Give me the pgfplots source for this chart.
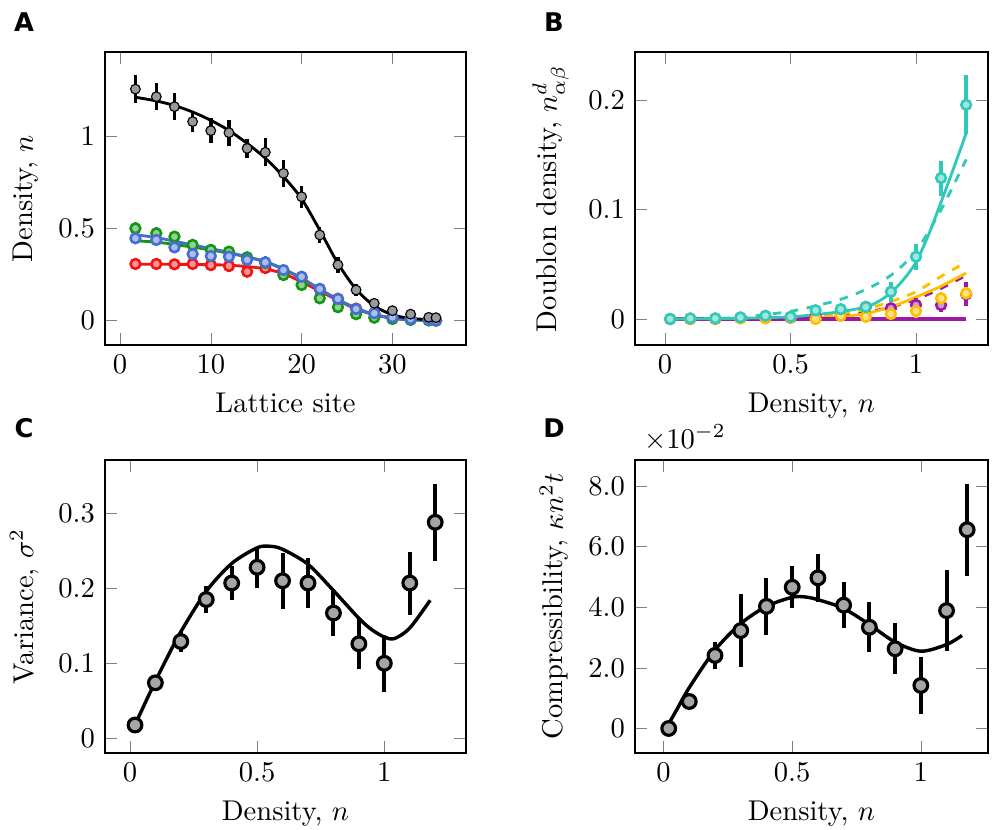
\documentclass[border=0pt]{standalone}
\usepackage{pgfplots}
\pgfplotsset{compat=1.18}
\usepackage{fontspec}
\newfontfamily\panelfont{DejaVu Sans}

\definecolor{cblack}{RGB}{0,0,0}
\definecolor{cgreen}{RGB}{20,150,20}
\definecolor{cblue}{RGB}{70,110,210}
\definecolor{cred}{RGB}{240,20,20}
\definecolor{cteal}{RGB}{48,201,184}
\definecolor{cpurple}{RGB}{155,25,165}
\definecolor{cyellow}{RGB}{255,190,0}

\pgfplotsset{
  panel/.style={scale only axis, anchor=north west, height=102.55pt},
  ebars/.style={error bars/y dir=both, error bars/y explicit, error bars/error mark=none,
    error bars/error bar style={line width=#1}},
  pts/.style={only marks, color=#1, mark=*, mark size=1.7pt,
    mark options={solid, line width=0.9pt, draw=#1, fill=#1!45!white},
    ebars=1.2pt},
  bigpts/.style={only marks, color=black, mark=*, mark size=2.4pt,
    mark options={solid, line width=1.1pt, draw=black, fill=black!35!white},
    ebars=1.4pt},
  fit/.style={color=#1, line width=1pt, smooth, mark=none},
}

\begin{document}
\begin{tikzpicture}
\useasboundingbox (0,0) rectangle (348.95pt,-290.15pt);

\node[font=\panelfont\bfseries\fontsize{9}{10}\selectfont] at (8.4pt,-7.7pt) {A};
\node[font=\panelfont\bfseries\fontsize{9}{10}\selectfont] at (193.9pt,-7.7pt) {B};
\node[font=\panelfont\bfseries\fontsize{9}{10}\selectfont] at (8.4pt,-150pt) {C};
\node[font=\panelfont\bfseries\fontsize{9}{10}\selectfont] at (193.9pt,-150pt) {D};

% ---------------- A
\begin{axis}[panel, at={(36.75pt,-18.2pt)}, width=126.35pt,
  xmin=-1.65, xmax=38.1, ymin=-0.132, ymax=1.455,
  xtick={0,10,20,30}, ytick={0,0.5,1},
  xlabel={Lattice site}, ylabel={Density, $n$}]
\addplot[pts=cred] table[x index=0, y index=1, y error index=2] {
1.7 0.307 0.03
4 0.307 0.03
6 0.305 0.03
8 0.307 0.03
10 0.301 0.03
12 0.296 0.03
14 0.265 0.03
16 0.285 0.03
18 0.262 0.03
20 0.230 0.03
22 0.170 0.025
24 0.118 0.02
26 0.065 0.015
28 0.040 0.01
30 0.015 0.008
32 0.008 0.005
34 0.003 0.005
34.8 0.001 0.004
};
\addplot[fit=cred] coordinates {
(1.7,0.305) (6,0.305) (10,0.303) (12,0.300) (14,0.293) (16,0.28) (18,0.255)
(20,0.21) (22,0.16) (24,0.11) (26,0.063) (28,0.032) (30,0.013) (32,0.005) (34.8,0.001)
};
\addplot[pts=cgreen] table[x index=0, y index=1, y error index=2] {
1.7 0.500 0.035
4 0.473 0.035
6 0.455 0.03
8 0.410 0.03
10 0.383 0.03
12 0.374 0.03
14 0.343 0.03
16 0.311 0.03
18 0.247 0.03
20 0.193 0.025
22 0.121 0.02
24 0.073 0.015
26 0.035 0.01
28 0.016 0.008
30 0.009 0.005
32 0.004 0.005
34 0.001 0.004
34.8 0.000 0.004
};
\addplot[fit=cgreen] coordinates {
(1.7,0.433) (4,0.425) (6,0.413) (8,0.398) (10,0.383) (12,0.365) (14,0.345)
(16,0.32) (18,0.28) (20,0.23) (22,0.17) (24,0.115) (26,0.067) (28,0.034)
(30,0.014) (32,0.005) (34.8,0.001)
};
\addplot[pts=cblue] table[x index=0, y index=1, y error index=2] {
1.7 0.446 0.03
4 0.437 0.03
6 0.397 0.03
8 0.361 0.03
10 0.350 0.03
12 0.347 0.03
14 0.329 0.03
16 0.316 0.035
18 0.274 0.03
20 0.238 0.03
22 0.172 0.025
24 0.118 0.02
26 0.063 0.015
28 0.040 0.01
30 0.018 0.008
32 0.009 0.005
34 0.004 0.005
34.8 0.001 0.004
};
\addplot[fit=cblue] coordinates {
(1.7,0.465) (4,0.45) (6,0.43) (8,0.41) (10,0.39) (12,0.37) (14,0.345)
(16,0.318) (18,0.278) (20,0.228) (22,0.17) (24,0.113) (26,0.066) (28,0.033)
(30,0.013) (32,0.005) (34.8,0.001)
};
\addplot[pts=cblack, mark options={fill=black!40!white}] table[x index=0, y index=1, y error index=2] {
1.7 1.254 0.075
4 1.213 0.072
6 1.159 0.072
8 1.078 0.056
10 1.029 0.068
12 1.018 0.07
14 0.933 0.052
16 0.912 0.077
18 0.798 0.072
20 0.671 0.059
22 0.464 0.045
24 0.302 0.045
26 0.166 0.03
28 0.094 0.02
30 0.054 0.015
32 0.035 0.012
34 0.018 0.01
34.8 0.016 0.01
};
\addplot[fit=cblack] coordinates {
(1.7,1.21) (4,1.19) (6,1.165) (8,1.13) (10,1.085) (12,1.03) (14,0.96)
(16,0.88) (18,0.78) (20,0.66) (22,0.49) (24,0.31) (26,0.17) (28,0.08)
(30,0.032) (32,0.012) (34.8,0.004)
};
\end{axis}

% ---------------- B
\begin{axis}[panel, at={(222.25pt,-18.2pt)}, width=123.55pt,
  xmin=-0.12, xmax=1.287, ymin=-0.0238, ymax=0.2443,
  xtick={0,0.5,1}, ytick={0,0.1,0.2},
  xlabel={Density, $n$}, ylabel={Doublon density, $n^d_{\alpha\beta}$}]
\addplot[fit=cpurple, dashed] coordinates {
(0.02,0) (0.5,0.0005) (0.6,0.0015) (0.7,0.003) (0.8,0.006) (0.9,0.011)
(1.0,0.018) (1.1,0.028) (1.2,0.040)
};
\addplot[fit=cyellow] coordinates {
(0.02,0) (0.5,0.0005) (0.6,0.001) (0.7,0.002) (0.8,0.005) (0.9,0.011)
(1.0,0.020) (1.1,0.030) (1.2,0.042)
};
\addplot[fit=cyellow, dashed] coordinates {
(0.02,0) (0.3,0.0003) (0.4,0.0007) (0.5,0.0015) (0.6,0.003) (0.7,0.005)
(0.8,0.009) (0.9,0.016) (1.0,0.025) (1.1,0.039) (1.2,0.052)
};
\addplot[fit=cpurple, line width=1.1pt] coordinates {(0.02,0) (1.2,0)};
\addplot[fit=cteal] coordinates {
(0.02,0) (0.2,0.0003) (0.3,0.0007) (0.4,0.0012) (0.5,0.002) (0.6,0.004)
(0.7,0.0067) (0.8,0.011) (0.85,0.016) (0.9,0.024) (0.95,0.036) (1.0,0.052)
(1.05,0.077) (1.1,0.107) (1.15,0.138) (1.2,0.170)
};
\addplot[fit=cteal, dashed] coordinates {
(0.02,0) (0.2,0.0005) (0.3,0.0015) (0.4,0.004) (0.5,0.007) (0.6,0.012)
(0.7,0.018) (0.8,0.027) (0.9,0.040) (1.0,0.062) (1.1,0.100) (1.2,0.146)
};
\addplot[pts=cpurple] table[x index=0, y index=1, y error index=2] {
0.02 0 0.001
0.1 0 0.001
0.2 0 0.001
0.3 0.001 0.001
0.4 0.001 0.001
0.5 0.001 0.001
0.6 0.002 0.002
0.7 0.003 0.002
0.8 0.011 0.005
0.9 0.0098 0.004
1.0 0.0128 0.006
1.1 0.0128 0.006
1.2 0.0226 0.011
};
\addplot[pts=cyellow] table[x index=0, y index=1, y error index=2] {
0.02 0 0.001
0.1 0 0.001
0.2 0 0.001
0.3 0.0005 0.001
0.4 0.0005 0.001
0.5 0.001 0.001
0.6 0.000 0.001
0.7 0.003 0.002
0.8 0.002 0.002
0.9 0.0046 0.003
1.0 0.0073 0.006
1.1 0.019 0.005
1.2 0.0235 0.006
};
\addplot[pts=cteal] table[x index=0, y index=1, y error index=2] {
0.02 0 0.001
0.1 0.0006 0.001
0.2 0.0006 0.001
0.3 0.0015 0.001
0.4 0.003 0.002
0.5 0.002 0.002
0.6 0.008 0.003
0.7 0.009 0.003
0.8 0.011 0.004
0.9 0.025 0.009
1.0 0.057 0.012
1.1 0.129 0.016
1.2 0.196 0.027
};
\end{axis}

% ---------------- C
\begin{axis}[panel, at={(36.75pt,-161pt)}, width=126.35pt,
  xmin=-0.098, xmax=1.321, ymin=-0.0196, ymax=0.371,
  xtick={0,0.5,1}, ytick={0,0.1,0.2,0.3},
  xlabel={Density, $n$}, ylabel={Variance, $\sigma^2$}]
\addplot[fit=black, line width=1.2pt] coordinates {
(0.02,0.018) (0.05,0.04) (0.1,0.076) (0.15,0.11) (0.2,0.142) (0.3,0.196)
(0.4,0.233) (0.5,0.254) (0.55,0.256) (0.6,0.252) (0.7,0.232) (0.8,0.197)
(0.9,0.16) (0.95,0.145) (1.0,0.135) (1.04,0.133) (1.1,0.147) (1.18,0.184)
};
\addplot[bigpts] table[x index=0, y index=1, y error index=2] {
0.02 0.0177 0.002
0.1 0.074 0.004
0.2 0.129 0.014
0.3 0.185 0.018
0.4 0.207 0.023
0.5 0.228 0.027
0.6 0.210 0.037
0.7 0.207 0.033
0.8 0.167 0.030
0.9 0.126 0.034
1.0 0.100 0.038
1.1 0.207 0.042
1.2 0.288 0.051
};
\end{axis}

% ---------------- D
\begin{axis}[panel, at={(222.25pt,-161pt)}, width=123.55pt,
  xmin=-0.111, xmax=1.261, ymin=-0.0081, ymax=0.0886,
  xtick={0,0.5,1}, ytick={0,0.02,0.04,0.06,0.08},
  scaled y ticks=base 10:2, tick scale binop=\times,
  yticklabel={\ifdim\tick pt<0.01pt $0$\else
    $\pgfmathprintnumber[fixed,fixed zerofill,precision=1]{\tick}$\fi},
  xlabel={Density, $n$}, ylabel={Compressibility, $\kappa n^2 t$}]
\addplot[fit=black, line width=1.2pt] coordinates {
(0.02,0.0015) (0.05,0.006) (0.1,0.0135) (0.2,0.0259) (0.3,0.0346)
(0.4,0.0403) (0.5,0.0433) (0.55,0.0434) (0.6,0.0425) (0.7,0.0396)
(0.8,0.0343) (0.9,0.0285) (1.0,0.0255) (1.1,0.0277) (1.16,0.0307)
};
\addplot[bigpts] table[x index=0, y index=1, y error index=2] {
0.02 0.0000 0.0005
0.1 0.0089 0.0013
0.2 0.0241 0.0045
0.3 0.0323 0.0120
0.4 0.0403 0.0094
0.5 0.0466 0.0070
0.6 0.0497 0.0080
0.7 0.0407 0.0077
0.8 0.0334 0.0083
0.9 0.0263 0.0084
1.0 0.0142 0.0094
1.1 0.0389 0.0134
1.18 0.0656 0.0152
};
\end{axis}
\end{tikzpicture}
\end{document}
